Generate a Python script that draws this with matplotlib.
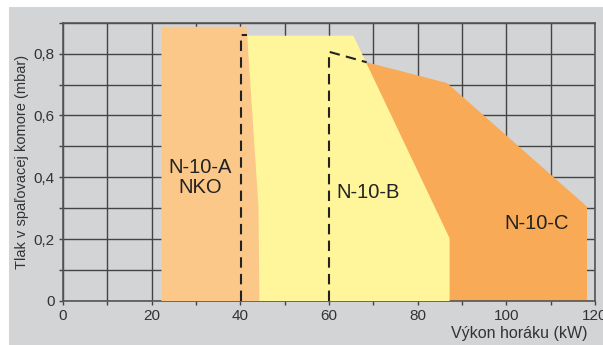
import matplotlib
matplotlib.use("Agg")
import matplotlib.pyplot as plt
from matplotlib.patches import Polygon, Rectangle

plt.rcParams['font.family'] = ['Liberation Sans', 'DejaVu Sans']

# operating fields (kW, mbar)
a_x = [22.2, 22.2, 41.4, 44.1, 44.3]
a_y = [0.0, 0.887, 0.887, 0.305, 0.0]
b_x = [41.6, 41.6, 65.5, 87.2, 87.2]
b_y = [0.0, 0.858, 0.858, 0.203, 0.0]
c_x = [60.0, 60.0, 68.5, 86.6, 118.2, 118.2]
c_y = [0.0, 0.806, 0.772, 0.705, 0.305, 0.0]

# dashed limits
dash_a_x = [40.1, 40.1, 41.6]
dash_a_y = [0.0, 0.861, 0.861]
dash_b_x = [60.0, 60.0, 68.5]
dash_b_y = [0.0, 0.806, 0.772]

xticks = [0, 20, 40, 60, 80, 100, 120]
yticks = [0, 0.2, 0.4, 0.6, 0.8]
ytick_labels = ['0', '0,2', '0,4', '0,6', '0,8']

fig = plt.figure(figsize=(6.03, 3.45), dpi=100)
fig.patches.append(Rectangle((9/603, 0), 1, 338/345, transform=fig.transFigure,
                             facecolor='#d3d4d6', edgecolor='none', zorder=-10))
ax = fig.add_axes([63/603, 44/345, 532/603, 278.3/345])
ax.set_facecolor('#d3d4d6')

ax.add_patch(Polygon(list(zip(c_x, c_y)), closed=True, facecolor='#f9aa56', edgecolor='none', zorder=2))
ax.add_patch(Polygon(list(zip(b_x, b_y)), closed=True, facecolor='#fff59b', edgecolor='none', zorder=3))
ax.add_patch(Polygon(list(zip(a_x, a_y)), closed=True, facecolor='#fcc88a', edgecolor='none', zorder=4))

ax.plot(dash_a_x, dash_a_y, color='#222222', lw=1.5, ls=(0, (5, 3)), zorder=5)
ax.plot(dash_b_x, dash_b_y, color='#222222', lw=1.5, ls=(0, (5, 3)), zorder=5)

ax.text(30.9, 0.40, 'N-10-A\nNKO', ha='center', va='center', fontsize=14.5,
        color='#222222', linespacing=1.1, zorder=6)
ax.text(61.6, 0.35, 'N-10-B', ha='left', va='center', fontsize=14.5, color='#222222', zorder=6)
ax.text(106.9, 0.252, 'N-10-C', ha='center', va='center', fontsize=14.5, color='#222222', zorder=6)

ax.set_xlim(0, 120)
ax.set_ylim(0, 0.9)
ax.set_xticks(range(0, 121, 10))
ax.set_xticklabels([str(v) if v in xticks else '' for v in range(0, 121, 10)])
ax.set_yticks([i / 10 for i in range(10)])
ax.set_yticklabels([ytick_labels[i // 2] if i % 2 == 0 else '' for i in range(10)])
ax.grid(True, color='#444444', lw=1.0, zorder=1)
ax.set_axisbelow(True)
ax.tick_params(direction='out', length=3, width=1, colors='#444444', labelsize=11,
               labelcolor='#333333', pad=3)
for s in ax.spines.values():
    s.set_color('#555555')
    s.set_linewidth(1.2)

ax.set_ylabel('Tlak v spaľovacej komore (mbar)', fontsize=10.5, color='#333333', labelpad=3)
ax.set_xlabel('Výkon horáku (kW)', fontsize=11.5, color='#333333', loc='right', labelpad=2)
ax.xaxis.label.set_position((0.985, 0))

fig.savefig('out.png', dpi=100)
